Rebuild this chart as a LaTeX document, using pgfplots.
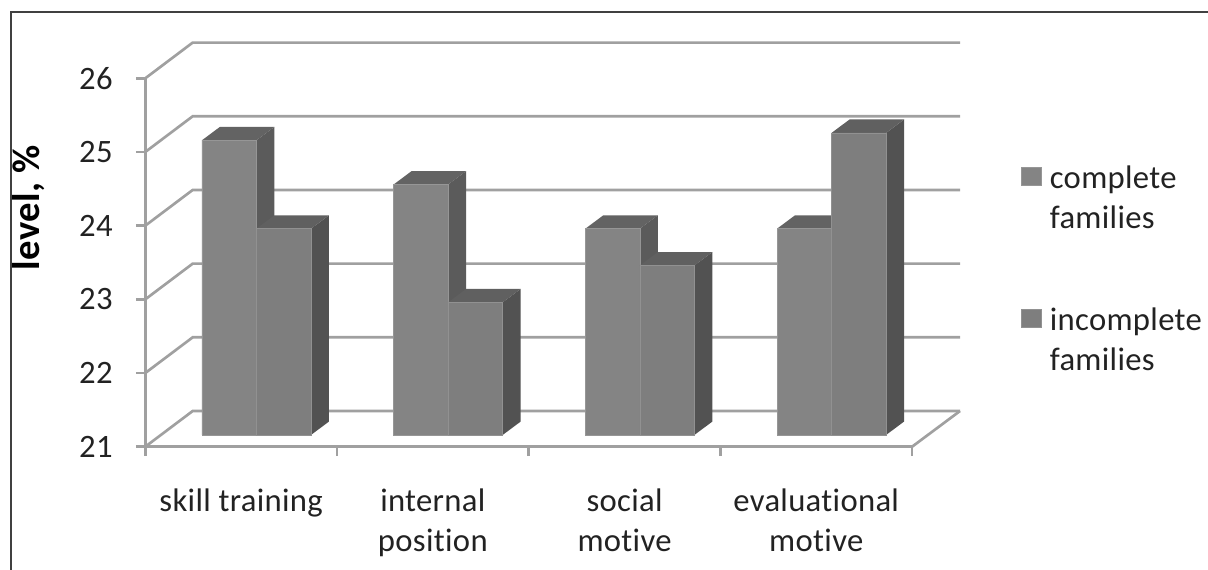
\documentclass[border=0pt]{standalone}
\usepackage{fontspec}
\setmainfont{Carlito}[Ligatures={NoCommon}, LetterSpace=1.0]
\usepackage{pgfplots}
\usepackage{pgfplotstable}
\pgfplotsset{compat=1.18}

\definecolor{gridgray}{HTML}{A0A0A0}
\definecolor{txt}{HTML}{222222}
\definecolor{frontA}{HTML}{848484}
\definecolor{frontB}{HTML}{7E7E7E}
\definecolor{topA}{HTML}{636363}
\definecolor{topB}{HTML}{606060}
\definecolor{sideA}{HTML}{5B5B5B}
\definecolor{sideB}{HTML}{525252}

\pgfplotstableread{
x    complete incomplete
0.5  25.0     23.8
1.5  24.4     22.8
2.5  23.8     23.3
3.5  23.8     25.1
}\bars

% depth faces of one bar: left edge, right edge, value, top colour, side colour
\newcommand{\barfaces}[5]{%
  \addplot[forget plot, draw=none, fill=#5] coordinates
    {({#2},21) ({#2+0.0939},21.182) ({#2+0.0939},{#3+0.182}) ({#2},#3)} --cycle;
  \addplot[forget plot, draw=none, fill=#4] coordinates
    {({#1},#3) ({#2},#3) ({#2+0.0939},{#3+0.182}) ({#1+0.0939},{#3+0.182})} --cycle;
}

\pgfplotsset{
  every axis/.append style={
    x=143.775pt, y=55.26pt,
    xmin=0, xmax=4, ymin=21, ymax=26,
    clip=false,
    font=\fontsize{24.5}{30}\selectfont,
  },
}

\begin{document}
\begin{tikzpicture}
% walls, floor, axes
\begin{axis}[
  axis lines=left,
  axis line style={-, gridgray, line width=2pt},
  tick style={gridgray, line width=2pt},
  tick align=outside,
  major tick length=7pt,
  xtick={0,1,2,3,4},
  x tick label as interval,
  xticklabels={skill training,{internal\\position},{social\\motive},{evaluational\\motive}},
  xticklabel style={align=center, text=txt, yshift=-21pt},
  ytick={21,22,23,24,25,26},
  yticklabel style={text=txt, xshift=-14pt},
  /pgf/number format/assume math mode=true,
  ylabel={level, \%},
  ylabel style={at={(rel axis cs:-0.1517,0.649)}, anchor=center, font=\fontsize{29}{33}\selectfont\bfseries, text=black},
]
\pgfplotsinvokeforeach{21,22,23,24,25,26}{
  \addplot[forget plot, gridgray, line width=2pt] coordinates
    {(0,#1) (0.2473,{#1+0.4845}) (4.25,{#1+0.4845})};
}
\addplot[forget plot, gridgray, line width=2pt] coordinates {(4.25,21.4845) (4,21)};
\end{axis}

% bars, on a plane a little behind the axes
\begin{axis}[
  at={(11.475pt,8.775pt)},
  hide axis,
  legend cell align=left,
  legend style={
    draw=none, fill=none, text=txt,
    at={(rel axis cs:1.1225,0.753)}, anchor=north west,
    row sep=80pt, inner sep=0pt, outer sep=0pt,
    /tikz/every odd column/.append style={column sep=4pt},
  },
  legend image code/.code={
    \fill[#1] (0pt,-7.75pt) rectangle (15pt,6.25pt);
  },
]
\barfaces{0.2157}{0.5}{25.0}{topA}{sideA}
\barfaces{1.2157}{1.5}{24.4}{topA}{sideA}
\barfaces{2.2157}{2.5}{23.8}{topA}{sideA}
\barfaces{3.2157}{3.5}{23.8}{topA}{sideA}
\addplot[ybar, bar width=40.9pt, bar shift=-20.45pt, fill=frontA, draw=frontA!85!white, line width=0.4pt]
  table[x=x, y=complete] {\bars};
\addlegendentry{\begin{tabular}[t]{@{}l@{}}complete\\families\end{tabular}}
\barfaces{0.5}{0.7843}{23.8}{topB}{sideB}
\barfaces{1.5}{1.7843}{22.8}{topB}{sideB}
\barfaces{2.5}{2.7843}{23.3}{topB}{sideB}
\barfaces{3.5}{3.7843}{25.1}{topB}{sideB}
\addplot[ybar, bar width=40.9pt, bar shift=20.45pt, fill=frontB, draw=frontB!85!white, line width=0.4pt]
  table[x=x, y=incomplete] {\bars};
\addlegendentry{\begin{tabular}[t]{@{}l@{}}incomplete\\families\end{tabular}}
\end{axis}

% frame and page size, in pixels of the reference from its top left corner
\pgfresetboundingbox
\begin{scope}[x=0.75pt, y=-0.75pt, shift={(-145.3,-446.7)}]
  \path[use as bounding box] (0,0) rectangle (1208,570);
  \draw[color=black!75, line width=1.4pt] (11,570) -- (11,12) -- (1208,12);
\end{scope}
\end{tikzpicture}
\end{document}
